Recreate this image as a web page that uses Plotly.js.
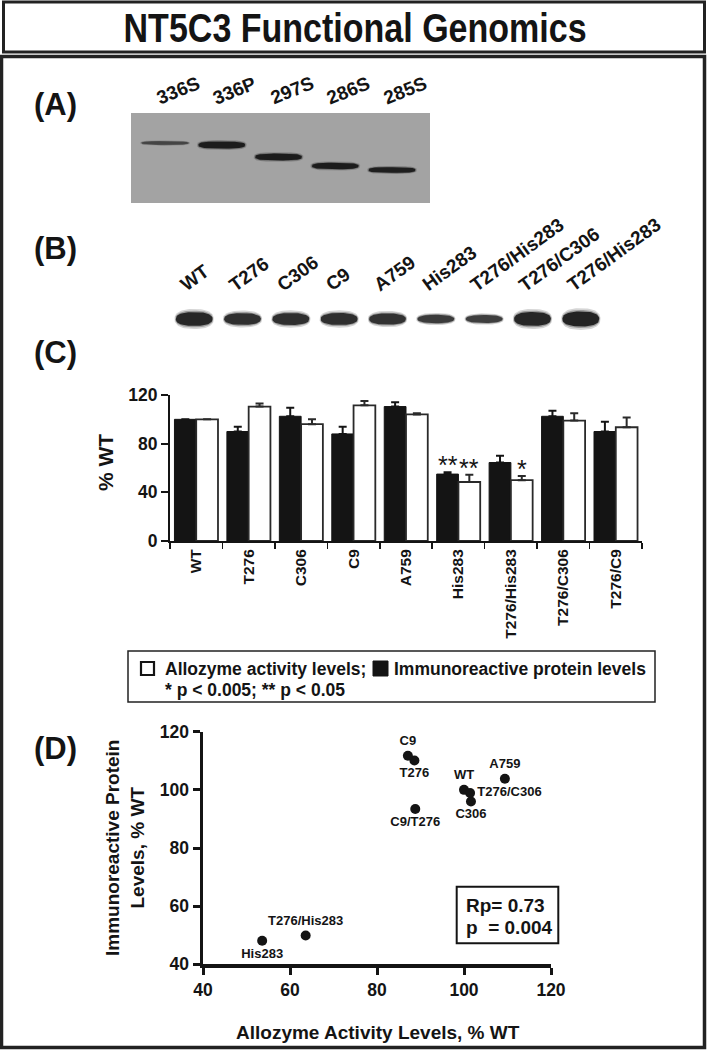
<!DOCTYPE html>
<html><head><meta charset="utf-8">
<script src="https://cdn.plot.ly/plotly-3.0.1.min.js"></script>
<style>html,body{margin:0;padding:0;background:#fff;}#chart{width:708px;height:1050px;}</style>
</head><body><div id="chart"></div>
<script>
// ---------- Panel A: gel (lane labels, relative migration, band intensity)
const gelALanes = ['336S', '336P', '297S', '286S', '285S'];
const gelAMigration = [30, 32, 44, 53, 57];
const gelAIntensity = [0.22, 1.0, 0.95, 0.85, 0.7];

// ---------- Panel B: gel
const gelBLanes = ['WT', 'T276', 'C306', 'C9', 'A759', 'His283', 'T276/His283', 'T276/C306', 'T276/His283'];
const gelBIntensity = [0.9, 0.7, 0.72, 0.72, 0.65, 0.4, 0.35, 0.9, 1.0];

// ---------- Panel C: bars (% WT)
const categories = ['WT', 'T276', 'C306', 'C9', 'A759', 'His283', 'T276/His283', 'T276/C306', 'T276/C9'];
const proteinLevels = [100, 90, 102.5, 88, 110.5, 55, 64.5, 102.5, 90];
const proteinErr = [0, 4, 7, 6, 3.5, 1.5, 5.5, 4.5, 8];
const activityLevels = [100, 110.5, 96, 111.5, 104, 48.5, 50, 99, 93.5];
const activityErr = [0, 2.5, 4, 3.5, 1, 6, 3.5, 6, 8];
const proteinSig = ['', '', '', '', '', '**', '', '', ''];
const activitySig = ['', '', '', '', '', '**', '*', '', ''];
const legendActivity = 'Allozyme activity levels;';
const legendProtein = 'Immunoreactive protein levels';
const legendLine2 = '* p &lt; 0.005; ** p &lt; 0.05';

// ---------- Panel D: scatter
const scatterNames = ['WT', 'T276', 'C306', 'C9', 'A759', 'His283', 'T276/His283', 'T276/C306', 'C9/T276'];
const scatterX = [100, 88.6, 101.6, 87.1, 109.4, 53.6, 63.6, 101.4, 88.8];
const scatterY = [100, 110.1, 96, 111.7, 103.8, 48.1, 49.9, 98.9, 93.4];
const scatterLabelPos = ['top center', 'bottom center', 'bottom center', 'top center', 'top center', 'bottom center', 'top center', 'middle right', 'bottom center'];
const statsLines = ['Rp= 0.73', 'p\u00a0 = 0.004'];

// ---------- helpers
const W = 708, H = 1050;
const P = px => px / W;
const Q = py => 1 - py / H;
const FONT = 'Liberation Sans, Arial, Helvetica, sans-serif';
const INK = '#141414';

function bandPoly(xc, yc, hw, hh, n) {
  const xs = [], ys = [];
  for (let k = 0; k <= 72; k++) {
    const t = 2 * Math.PI * k / 72, c = Math.cos(t), s = Math.sin(t);
    xs.push(xc + hw * Math.sign(c) * Math.pow(Math.abs(c), 2 / n));
    ys.push(yc + hh * Math.sign(s) * Math.pow(Math.abs(s), 2 / n));
  }
  return {xs, ys};
}
function bandTraces(xa, ya, xc, yc, hw, hh, alpha, n) {
  const out = [];
  const layers = [[1.07, 1.45, 0.18], [1.03, 1.2, 0.3], [1, 1, alpha]];
  layers.forEach(([sw, sh, a]) => {
    const p = bandPoly(xc, yc, hw * sw, hh * sh, n);
    out.push({type: 'scatter', mode: 'lines', xaxis: xa, yaxis: ya, x: p.xs, y: p.ys,
      fill: 'toself', fillcolor: 'rgba(22,22,22,' + a.toFixed(3) + ')', line: {width: 0}, hoverinfo: 'skip'});
  });
  return out;
}

const traces = [];
traces.push({
  type: 'bar', x: categories, y: proteinLevels, name: 'Immunoreactive protein levels',
  marker: {color: INK, line: {color: INK, width: 1}},
  error_y: {type: 'data', symmetric: false, array: proteinErr, arrayminus: proteinErr.map(() => 0), color: INK, thickness: 2, width: 4},
  hoverinfo: 'skip'
});
traces.push({
  type: 'bar', x: categories, y: activityLevels, name: 'Allozyme activity levels',
  marker: {color: '#ffffff', line: {color: '#2a2a2a', width: 1.8}},
  error_y: {type: 'data', symmetric: false, array: activityErr, arrayminus: activityErr.map(() => 0), color: '#2a2a2a', thickness: 2, width: 4},
  hoverinfo: 'skip'
});
traces.push({
  type: 'scatter', mode: 'markers+text', xaxis: 'x2', yaxis: 'y2',
  x: scatterX, y: scatterY, text: scatterNames, textposition: scatterLabelPos,
  marker: {size: 10, color: INK},
  textfont: {family: FONT, size: 13, color: INK, weight: 'bold'},
  cliponaxis: false, hoverinfo: 'skip'
});
gelALanes.forEach((l, i) => {
  const hh = 1.3 + 2.2 * gelAIntensity[i];
  traces.push(...bandTraces('x3', 'y3', i, gelAMigration[i], 0.41, hh, Math.min(0.92, 0.2 + gelAIntensity[i]), 3));
});
gelBLanes.forEach((l, i) => {
  const hh = 2 + 5.5 * gelBIntensity[i];
  traces.push(...bandTraces('x4', 'y4', i, 15, 0.38, hh, 0.6 + 0.3 * gelBIntensity[i], 2.4));
});

const annotations = [];
const ann = (o) => annotations.push(Object.assign({showarrow: false, xref: 'paper', yref: 'paper', xanchor: 'center', yanchor: 'middle'}, o));
const bold = (size) => ({family: FONT, size: size, color: INK, weight: 'bold'});
ann({x: P(355), y: Q(28), text: 'NT5C3 Functional Genomics', font: bold(41), name: 'figtitle'});
[['(A)', 104], ['(B)', 249], ['(C)', 352], ['(D)', 748]].forEach(([t, y]) =>
  ann({x: P(55), y: Q(y), text: t, font: bold(31)}));
gelALanes.forEach((l, i) => ann({xref: 'x3', x: i, xshift: 13, y: Q(111), yanchor: 'bottom', textangle: -22, text: l, font: bold(19)}));
gelBLanes.forEach((l, i) => ann({xref: 'x4', x: i - 0.42, xanchor: 'left', y: Q(298), yanchor: 'bottom', textangle: -36, text: l, font: bold(19)}));
ann({x: P(105), y: Q(463), text: '% WT', textangle: -90, font: bold(21)});
const halfBar = 0.83 / 4;
categories.forEach((c, i) => {
  if (proteinSig[i]) ann({xref: 'x', yref: 'y', x: i - halfBar, y: proteinLevels[i] + proteinErr[i], yanchor: 'bottom', yshift: -9,
    text: proteinSig[i], font: {family: FONT, size: 25, color: INK}});
  if (activitySig[i]) ann({xref: 'x', yref: 'y', x: i + halfBar, y: activityLevels[i] + activityErr[i], yanchor: 'bottom', yshift: -9,
    text: activitySig[i], font: {family: FONT, size: 25, color: INK}});
});
ann({x: P(163), y: Q(669), xanchor: 'left', text: legendActivity, font: bold(17.5)});
ann({x: P(392), y: Q(669), xanchor: 'left', text: legendProtein, font: bold(17.5)});
ann({x: P(163), y: Q(690), xanchor: 'left', text: legendLine2, font: bold(17.5)});
ann({x: P(378), y: Q(1032), text: 'Allozyme Activity Levels, % WT', font: bold(19)});
ann({x: P(125), y: Q(848), textangle: -90, text: 'Immunoreactive Protein<br>Levels, % WT', font: bold(19)});
ann({x: P(464), y: Q(905), xanchor: 'left', text: statsLines[0], font: bold(19)});
ann({x: P(464), y: Q(927), xanchor: 'left', text: statsLines[1], font: bold(19)});

const shapes = [
  {type: 'rect', xref: 'paper', yref: 'paper', x0: P(3.5), x1: P(704.5), y0: Q(2), y1: Q(52), line: {color: '#222', width: 3}},
  {type: 'rect', xref: 'paper', yref: 'paper', x0: P(1.5), x1: P(704.5), y0: Q(56.5), y1: Q(1047.5), line: {color: '#222', width: 3.5}},
  {type: 'rect', xref: 'x3 domain', yref: 'y3 domain', x0: 0, x1: 1, y0: 0, y1: 1, fillcolor: '#a3a3a3', line: {width: 0}, layer: 'below'},
  {type: 'rect', xref: 'paper', yref: 'paper', x0: P(128), x1: P(655), y0: Q(651), y1: Q(702), line: {color: '#222', width: 1.5}},
  {type: 'rect', xref: 'paper', yref: 'paper', x0: P(141), x1: P(154), y0: Q(662), y1: Q(675), line: {color: INK, width: 2.2}, fillcolor: '#fff'},
  {type: 'rect', xref: 'paper', yref: 'paper', x0: P(373), x1: P(388), y0: Q(661), y1: Q(676), line: {color: INK, width: 1}, fillcolor: INK},
  {type: 'rect', xref: 'paper', yref: 'paper', x0: P(456.7), x1: P(558.3), y0: Q(886.7), y1: Q(943.3), line: {color: INK, width: 2}}
];

const tickFont = bold(17.5);
const layout = {
  width: W, height: H, margin: {l: 0, r: 0, t: 0, b: 0}, autosize: false,
  paper_bgcolor: '#fff', plot_bgcolor: 'rgba(0,0,0,0)', showlegend: false,
  barmode: 'group', bargap: 0.17, bargroupgap: 0,
  font: {family: FONT, color: INK},
  xaxis: {domain: [P(170), P(642)], anchor: 'y', type: 'category', range: [-0.5, 8.5], showline: true, linewidth: 2, linecolor: INK,
    ticks: 'outside', tickson: 'boundaries', ticklen: 6, tickwidth: 1.5, tickcolor: INK, tickangle: -90,
    tickfont: bold(15.5), showgrid: false, zeroline: false, fixedrange: true},
  yaxis: {domain: [Q(541), Q(395)], anchor: 'x', range: [0, 120], tickvals: [0, 40, 80, 120], showline: true, linewidth: 2, linecolor: INK,
    ticks: 'outside', ticklen: 7, tickwidth: 2, tickcolor: INK, tickfont: tickFont, showgrid: false, zeroline: false, fixedrange: true},
  xaxis2: {domain: [P(203), P(551)], anchor: 'y2', range: [40, 120], tick0: 40, dtick: 20, showline: true, linewidth: 3.5, linecolor: INK,
    ticks: 'outside', ticklen: 7, tickwidth: 3, tickcolor: INK, tickfont: tickFont, showgrid: false, zeroline: false, fixedrange: true},
  yaxis2: {domain: [Q(964.3), Q(731.7)], anchor: 'x2', range: [40, 120], tick0: 40, dtick: 20, showline: true, linewidth: 3.5, linecolor: INK,
    ticks: 'outside', ticklen: 7, tickwidth: 3, tickcolor: INK, tickfont: tickFont, showgrid: false, zeroline: false, fixedrange: true},
  xaxis3: {domain: [P(131), P(430)], anchor: 'y3', range: [-0.6, 4.67], visible: false, fixedrange: true},
  yaxis3: {domain: [Q(203), Q(113)], anchor: 'x3', range: [90, 0], visible: false, fixedrange: true},
  xaxis4: {domain: [P(170), P(605)], anchor: 'y4', range: [-0.5, 8.5], visible: false, fixedrange: true},
  yaxis4: {domain: [Q(336), Q(304)], anchor: 'x4', range: [32, 0], visible: false, fixedrange: true},
  shapes: shapes, annotations: annotations
};
Plotly.newPlot('chart', traces, layout, {staticPlot: true, displayModeBar: false}).then(gd => {
  // condense the figure title horizontally (narrow bold face as in the original)
  const t = gd.querySelector('.annotation[data-index="0"] .annotation-text');
  if (t) {
    t.style.transformBox = 'fill-box';
    t.style.transformOrigin = 'center';
    t.style.transform = 'scaleX(0.83)';
  }
});
</script></body></html>
